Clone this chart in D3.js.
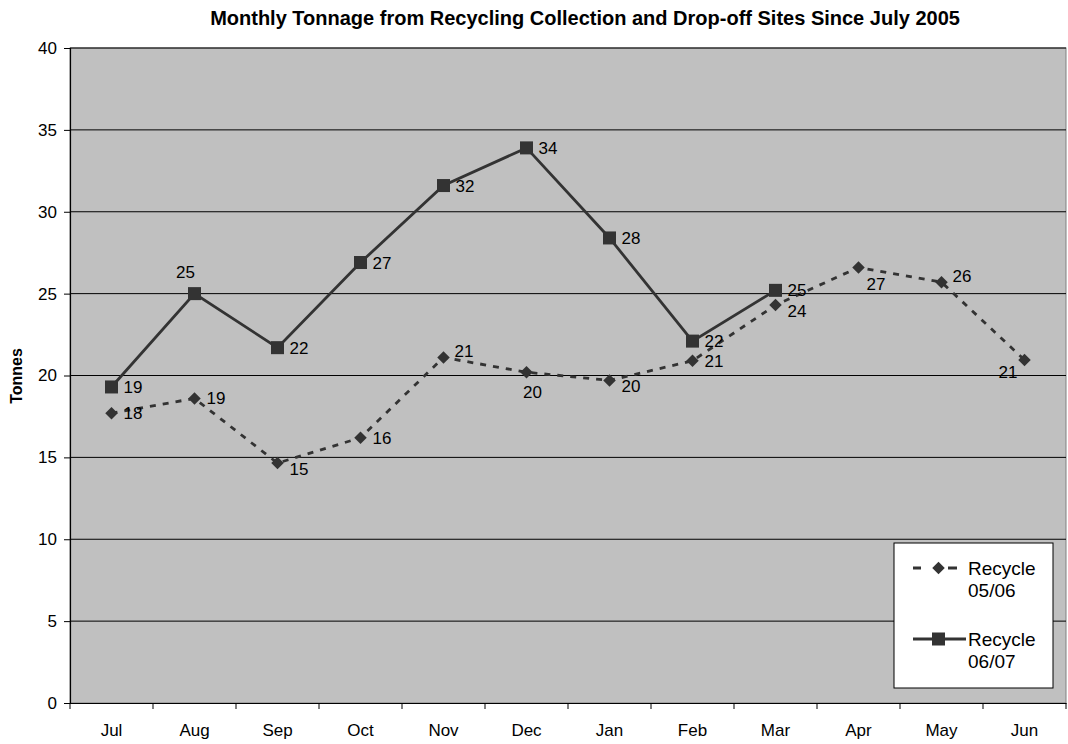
<!DOCTYPE html>
<html>
<head>
<meta charset="utf-8">
<script src="https://cdn.jsdelivr.net/npm/d3@7"></script>
<style>
  body { margin: 0; background: #fff; }
  text { font-family: Arial, "Liberation Sans", sans-serif; fill: #000; }
</style>
</head>
<body>
<div id="chart"></div>
<script>
const months = ["Jul", "Aug", "Sep", "Oct", "Nov", "Dec", "Jan", "Feb", "Mar", "Apr", "May", "Jun"];
const recycle0506 = [17.7, 18.6, 14.65, 16.2, 21.1, 20.2, 19.7, 20.9, 24.3, 26.6, 25.7, 20.95];
const recycle0607 = [19.3, 25.0, 21.7, 26.9, 31.6, 33.9, 28.4, 22.1, 25.2];
// where each data label sits relative to its marker
const place0506 = ["r", "r", "lr", "r", "tr", "b", "lr", "r", "lr", "br", "tr", "bl"];
const place0607 = ["r", "t", "r", "r", "r", "r", "r", "r", "r"];
const yTicks = [0, 5, 10, 15, 20, 25, 30, 35, 40];

const W = 1068, H = 744;
const margin = {top: 48, right: 2, bottom: 41, left: 70};
const width = W - margin.left - margin.right,
      height = H - margin.top - margin.bottom;
const fs = "17px";

const svg = d3.select("#chart").append("svg")
    .attr("width", W).attr("height", H);

const g = svg.append("g")
    .attr("transform", "translate(" + margin.left + "," + margin.top + ")");

const x = d3.scaleBand().domain(months).range([0, width]);
const y = d3.scaleLinear().domain([0, 40]).range([height, 0]);
const cx = d => x(d) + x.bandwidth() / 2;

// plot background
g.append("rect")
  .attr("width", width).attr("height", height)
  .attr("fill", "#c0c0c0").attr("stroke", "#808080");

// gridlines
g.selectAll(".grid")
  .data(yTicks.filter(t => t > 0))
  .enter().append("line")
  .attr("x1", 0).attr("x2", width)
  .attr("y1", d => y(d)).attr("y2", d => y(d))
  .attr("stroke", "#000").attr("stroke-width", 1);

// axes
const yAxis = g.append("g")
  .call(d3.axisLeft(y).tickValues(yTicks).tickSize(6).tickPadding(7));
const xAxis = g.append("g")
  .attr("transform", "translate(0," + height + ")")
  .call(d3.axisBottom(x).tickSize(0).tickPadding(21));
[yAxis, xAxis].forEach(a => {
  a.select(".domain").attr("stroke", "#000").attr("stroke-width", 1.2);
  a.selectAll("text").style("font-size", fs).style("font-family", "Arial, 'Liberation Sans', sans-serif");
});
// category boundary ticks
g.selectAll(".xtick")
  .data(months.concat(["end"]))
  .enter().append("line")
  .attr("x1", (d, i) => i * x.step()).attr("x2", (d, i) => i * x.step())
  .attr("y1", height).attr("y2", height + 6)
  .attr("stroke", "#000");

const lineCol = "#333333";
const line = d3.line().x(d => cx(d.m)).y(d => y(d.v));
const s0506 = recycle0506.map((v, i) => ({m: months[i], v: v, p: place0506[i]}));
const s0607 = recycle0607.map((v, i) => ({m: months[i], v: v, p: place0607[i]}));

g.append("path").datum(s0506)
  .attr("d", line).attr("fill", "none")
  .attr("stroke", lineCol).attr("stroke-width", 2.8)
  .attr("stroke-dasharray", "6,7");

g.append("path").datum(s0607)
  .attr("d", line).attr("fill", "none")
  .attr("stroke", lineCol).attr("stroke-width", 2.8);

const diamond = d3.symbol().type(d3.symbolDiamond2).size(100);
g.selectAll(".dia").data(s0506).enter().append("path")
  .attr("d", diamond)
  .attr("transform", d => "translate(" + cx(d.m) + "," + y(d.v) + ")")
  .attr("fill", lineCol);

g.selectAll(".sq").data(s0607).enter().append("rect")
  .attr("x", d => cx(d.m) - 6.5).attr("y", d => y(d.v) - 6.5)
  .attr("width", 13).attr("height", 13)
  .attr("fill", lineCol);

const offs = {
  r:  [12, 6, "start"],
  tr: [11, 0, "start"],
  lr: [12, 12, "start"],
  t:  [-9, -16, "middle"],
  b:  [6, 26, "middle"],
  br: [8, 23, "start"],
  bl: [-7, 18, "end"]
};
function labels(data) {
  g.selectAll(null).data(data).enter().append("text")
    .attr("x", d => cx(d.m) + offs[d.p][0])
    .attr("y", d => y(d.v) + offs[d.p][1])
    .attr("text-anchor", d => offs[d.p][2])
    .style("font-size", fs)
    .text(d => Math.round(d.v));
}
labels(s0506);
labels(s0607);

// title
svg.append("text")
  .attr("x", 585).attr("y", 25)
  .attr("text-anchor", "middle")
  .style("font-size", "20px").style("font-weight", "bold")
  .text("Monthly Tonnage from Recycling Collection and Drop-off Sites Since July 2005");

// y label
svg.append("text")
  .attr("transform", "translate(22," + 376 + ") rotate(-90)")
  .attr("text-anchor", "middle")
  .style("font-size", "16px").style("font-weight", "bold")
  .text("Tonnes");

// legend
const lg = svg.append("g").attr("transform", "translate(894,543)");
lg.append("rect").attr("width", 159).attr("height", 145)
  .attr("fill", "#fff").attr("stroke", "#000");
const legItems = [
  {name: ["Recycle", "05/06"], dash: "8,27,9", x2: 63, mark: "d"},
  {name: ["Recycle", "06/07"], dash: null, x2: 72, mark: "s"}
];
legItems.forEach((it, i) => {
  const yy = 25 + i * 71;
  lg.append("line").attr("x1", 19).attr("x2", it.x2)
    .attr("y1", yy).attr("y2", yy)
    .attr("stroke", lineCol).attr("stroke-width", 2.8)
    .attr("stroke-dasharray", it.dash);
  if (it.mark === "d") {
    lg.append("path").attr("d", diamond)
      .attr("transform", "translate(44.5," + yy + ")").attr("fill", lineCol);
  } else {
    lg.append("rect").attr("x", 38).attr("y", yy - 6.5).attr("width", 13).attr("height", 13)
      .attr("fill", lineCol);
  }
  const t = lg.append("text").attr("x", 74).attr("y", yy + 7).style("font-size", "19px");
  t.append("tspan").attr("x", 74).text(it.name[0]);
  t.append("tspan").attr("x", 74).attr("dy", 22).text(it.name[1]);
});
</script>
</body>
</html>
